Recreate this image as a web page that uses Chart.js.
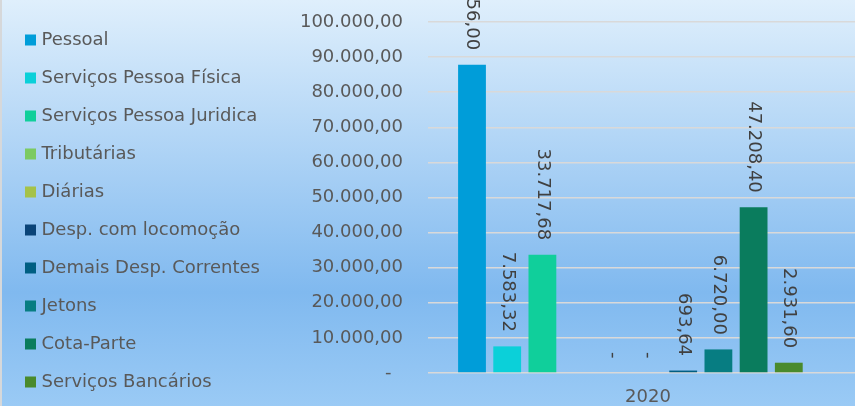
<!DOCTYPE html>
<html>
<head>
<meta charset="utf-8">
<script src="https://cdn.jsdelivr.net/npm/chart.js@4.4.1/dist/chart.umd.min.js"></script>
<style>
  html, body { margin: 0; padding: 0; background: #fff; }
  #wrap { position: relative; width: 855px; height: 406px; overflow: hidden; }
  #chart { position: absolute; left: 0; top: 0; }
</style>
</head>
<body>
<div id="wrap"><canvas id="chart" width="880" height="480"></canvas></div>
<script>
const categories = ['2020'];
const seriesNames = [
  'Pessoal', 'Serviços Pessoa Física', 'Serviços Pessoa Juridica', 'Tributárias', 'Diárias',
  'Desp. com locomoção', 'Demais Desp. Correntes', 'Jetons', 'Cota-Parte', 'Serviços Bancários', ''
];
const seriesValues = [87856.00, 7583.32, 33717.68, null, 0, 0, 693.64, 6720.00, 47208.40, 2931.60, null];
const seriesColors = [
  '#009DD9', '#0BD0D9', '#10CF9B', '#7CCA62', '#A5C249',
  '#0A4478', '#005E82', '#077D82', '#0A7C5D', '#4A8A2C', '#63742C'
];
const yTicks = [0, 10000, 20000, 30000, 40000, 50000, 60000, 70000, 80000, 90000, 100000];

const FONT = "'DejaVu Sans', Verdana, sans-serif";
const TEXT = '#595959';
const PAD_LEFT = 8.5;

// pt-BR style number: 100.000,00
function fmt(v) {
  const parts = Math.abs(v).toFixed(2).split('.');
  return parts[0].replace(/\B(?=(\d{3})+(?!\d))/g, '.') + ',' + parts[1];
}

const background = {
  id: 'background',
  beforeDraw(chart) {
    const ctx = chart.ctx;
    const g = ctx.createLinearGradient(0, 0, 0, 406);
    g.addColorStop(0, '#DFEFFC');
    g.addColorStop(0.72, '#80B9EF');
    g.addColorStop(1, '#9ACAF5');
    ctx.save();
    ctx.fillStyle = g;
    ctx.fillRect(0, 0, chart.width, chart.height);
    ctx.fillStyle = '#D6D8DA';
    ctx.fillRect(0, 0, 2, chart.height);
    ctx.restore();
  }
};

// let the left legend be as wide as its longest label
const wideLegend = {
  id: 'wideLegend',
  beforeLayout(chart) {
    const lg = chart.legend;
    if (lg && !lg._wide) {
      const orig = lg.update.bind(lg);
      lg.update = (maxWidth, maxHeight, margins) => orig(320, maxHeight, margins);
      lg._wide = true;
    }
  }
};

const valueLabels = {
  id: 'valueLabels',
  afterDatasetsDraw(chart) {
    const ctx = chart.ctx;
    ctx.save();
    ctx.fillStyle = '#404040';
    ctx.font = '18px ' + FONT;
    chart.data.datasets.forEach((ds, i) => {
      if (ds.label === '') return;
      chart.getDatasetMeta(i).data.forEach((bar, j) => {
        const v = ds.data[j];
        if (v === null) return;
        ctx.save();
        ctx.translate(bar.x, bar.y - 14.5);
        ctx.rotate(Math.PI / 2);
        ctx.textAlign = 'right';
        ctx.textBaseline = 'middle';
        ctx.fillText(v === 0 ? '-' : fmt(v), 0, 0);
        ctx.restore();
      });
    });
    ctx.restore();
  }
};

new Chart(document.getElementById('chart'), {
  type: 'bar',
  data: {
    labels: categories,
    datasets: seriesNames.map((name, i) => ({
      label: name,
      data: [seriesValues[i]],
      backgroundColor: seriesColors[i],
      categoryPercentage: 0.88,
      barPercentage: 0.79
    }))
  },
  options: {
    responsive: false,
    animation: false,
    devicePixelRatio: 1,
    layout: { padding: { left: PAD_LEFT, top: 11, right: 12, bottom: 31 } },
    plugins: {
      legend: {
        position: 'left',
        align: 'start',
        labels: {
          usePointStyle: true,
          pointStyle: 'rect',
          boxWidth: 4,
          boxHeight: 11,
          padding: 20,
          color: TEXT,
          font: { family: FONT, size: 18 },
          filter: item => item.text !== ''
        }
      },
      tooltip: { enabled: false }
    },
    scales: {
      x: {
        grid: { display: false, drawTicks: false },
        border: { display: false },
        ticks: { color: TEXT, font: { family: FONT, size: 18 }, padding: 14 },
        afterFit: s => { s.height = 76; }
      },
      y: {
        min: 0,
        max: 100000,
        afterBuildTicks: s => { s.ticks = yTicks.map(v => ({ value: v })); },
        grid: { color: '#D9D9D9', lineWidth: 1.5, drawTicks: false },
        border: { display: false },
        ticks: {
          color: TEXT,
          font: { family: FONT, size: 18 },
          padding: 25,
          callback: v => (v === 0 ? '-  ' : fmt(v))
        },
        afterFit: s => {
          s.width = 428 - PAD_LEFT - s.chart.legend.width;
          s.paddingTop = 22;
        }
      }
    }
  },
  plugins: [background, wideLegend, valueLabels]
});
</script>
</body>
</html>
